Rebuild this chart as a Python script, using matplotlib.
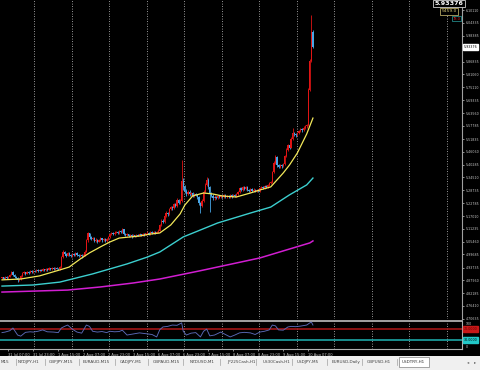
import numpy as np
import matplotlib
matplotlib.use('Agg')
import matplotlib.pyplot as plt
from matplotlib.patches import Rectangle

# ---------------- data ----------------
closes = [4.893,4.888,4.895,4.890,4.897,4.905,4.918,4.905,4.895,4.891,
          4.880,4.886,4.900,4.912,4.916,4.910,4.918,4.914,4.922,4.918,
          4.924,4.920,4.926,4.921,4.928,4.924,4.930,4.926,4.932,4.928,
          4.934,4.930,4.936,4.931,4.937,4.933,4.930,4.940,4.985,5.008,
          5.000,4.992,5.002,4.995,4.990,4.998,4.994,5.003,4.996,4.990,
          4.995,4.988,4.992,5.010,5.060,5.092,5.075,5.066,5.070,5.058,
          5.064,5.055,5.062,5.070,5.060,5.066,5.058,5.068,5.075,5.088,
          5.095,5.088,5.096,5.100,5.094,5.102,5.098,5.110,5.090,5.084,
          5.088,5.080,5.086,5.078,5.084,5.080,5.086,5.082,5.088,5.084,
          5.090,5.086,5.092,5.096,5.090,5.098,5.094,5.100,5.095,5.098,
          5.105,5.130,5.150,5.145,5.170,5.185,5.178,5.200,5.212,5.205,
          5.225,5.215,5.243,5.230,5.240,5.330,5.300,5.285,5.270,5.280,
          5.268,5.275,5.262,5.270,5.265,5.255,5.230,5.215,5.240,5.280,
          5.310,5.335,5.300,5.270,5.262,5.250,5.258,5.252,5.262,5.255,
          5.262,5.258,5.265,5.258,5.262,5.256,5.264,5.259,5.266,5.262,
          5.268,5.280,5.295,5.288,5.300,5.292,5.302,5.290,5.285,5.292,
          5.284,5.290,5.282,5.288,5.285,5.295,5.300,5.296,5.305,5.302,
          5.310,5.318,5.322,5.370,5.410,5.437,5.400,5.392,5.400,5.395,
          5.405,5.440,5.470,5.490,5.480,5.520,5.545,5.540,5.535,5.545,
          5.555,5.562,5.558,5.570,5.575,5.582,5.740,5.870,6.001,5.934]
first_open = 4.890
highs = [4.897,4.896,4.899,4.898,4.901,4.909,4.923,4.921,4.908,4.899,
         4.894,4.890,4.904,4.916,4.921,4.919,4.922,4.921,4.926,4.925,
         4.928,4.927,4.930,4.929,4.932,4.931,4.934,4.933,4.936,4.935,
         4.938,4.937,4.940,4.939,4.941,4.940,4.937,4.945,4.990,5.016,
         5.012,5.004,5.007,5.006,4.999,5.003,5.002,5.008,5.006,4.999,
         4.999,4.998,4.997,5.015,5.066,5.100,5.096,5.080,5.076,5.074,
         5.069,5.068,5.067,5.075,5.073,5.071,5.069,5.073,5.080,5.093,
         5.100,5.099,5.101,5.105,5.104,5.107,5.106,5.118,5.113,5.094,
         5.093,5.091,5.090,5.089,5.088,5.087,5.090,5.089,5.092,5.091,
         5.094,5.093,5.096,5.101,5.099,5.102,5.101,5.104,5.103,5.102,
         5.110,5.136,5.156,5.158,5.175,5.192,5.190,5.206,5.218,5.216,
         5.231,5.230,5.250,5.248,5.246,5.424,5.340,5.310,5.292,5.288,
         5.286,5.281,5.280,5.276,5.275,5.270,5.259,5.236,5.246,5.286,
         5.318,5.345,5.340,5.306,5.278,5.268,5.264,5.263,5.267,5.266,
         5.267,5.266,5.270,5.269,5.267,5.266,5.269,5.268,5.271,5.270,
         5.273,5.285,5.301,5.300,5.306,5.304,5.308,5.306,5.294,5.297,
         5.296,5.295,5.294,5.293,5.292,5.300,5.305,5.304,5.310,5.309,
         5.315,5.323,5.328,5.376,5.418,5.446,5.442,5.406,5.406,5.404,
         5.411,5.446,5.477,5.498,5.497,5.527,5.568,5.552,5.546,5.551,
         5.561,5.568,5.567,5.576,5.581,5.588,5.748,5.880,6.079,6.011]
lows = [4.886,4.884,4.886,4.887,4.888,4.894,4.902,4.901,4.891,4.886,
        4.874,4.877,4.883,4.897,4.908,4.906,4.907,4.910,4.911,4.914,
        4.915,4.916,4.917,4.918,4.918,4.920,4.921,4.922,4.923,4.924,
        4.925,4.926,4.927,4.927,4.928,4.929,4.925,4.927,4.937,4.980,
        4.994,4.987,4.989,4.990,4.985,4.986,4.989,4.991,4.991,4.985,
        4.986,4.983,4.984,4.989,5.006,5.055,5.068,5.060,5.062,5.053,
        5.054,5.050,5.051,5.058,5.055,5.056,5.053,5.055,5.064,5.071,
        5.084,5.083,5.085,5.092,5.089,5.090,5.093,5.095,5.085,5.079,
        5.080,5.075,5.076,5.073,5.074,5.076,5.077,5.078,5.079,5.080,
        5.081,5.082,5.083,5.088,5.086,5.087,5.090,5.091,5.091,5.092,
        5.095,5.102,5.126,5.139,5.141,5.166,5.172,5.174,5.196,5.199,
        5.201,5.209,5.211,5.224,5.225,5.236,5.290,5.275,5.262,5.264,
        5.262,5.262,5.256,5.257,5.259,5.249,5.222,5.184,5.210,5.235,
        5.275,5.305,5.293,5.189,5.255,5.244,5.245,5.246,5.248,5.250,
        5.251,5.253,5.254,5.253,5.254,5.251,5.252,5.254,5.255,5.257,
        5.258,5.264,5.276,5.283,5.284,5.287,5.288,5.285,5.280,5.281,
        5.279,5.280,5.277,5.278,5.280,5.281,5.291,5.291,5.292,5.297,
        5.298,5.306,5.313,5.318,5.365,5.405,5.394,5.386,5.387,5.389,
        5.391,5.401,5.436,5.465,5.474,5.476,5.515,5.534,5.529,5.530,
        5.540,5.550,5.552,5.553,5.565,5.570,5.578,5.735,5.865,5.928]

# moving averages (sampled read-offs: bar index, price)
ma_fast_idx = [0,12,24,37,43,50,56,63,69,75,82,88,95,101,108,114,117,122,129,135,141,150,159,165,172,180,184,189,195,199]
ma_fast_val = [4.882,4.886,4.900,4.927,4.940,4.976,5.004,5.031,5.053,5.071,5.076,5.080,5.089,5.094,5.130,5.180,5.220,5.261,5.2745,5.270,5.261,5.2565,5.2745,5.288,5.302,5.365,5.401,5.455,5.541,5.613]
ma_mid_idx = [0,20,37,58,80,93,101,116,138,159,172,184,195,199]
ma_mid_val = [4.854,4.859,4.872,4.909,4.954,4.985,5.008,5.076,5.139,5.184,5.211,5.266,5.311,5.342]
ma_slow_idx = [0,42,63,84,101,126,165,197,199]
ma_slow_val = [4.827,4.836,4.850,4.868,4.886,4.922,4.981,5.049,5.058]

rsi_idx = [0,2,5,7,10,12,15,18,20,23,26,29,33,36,38,40,42,45,48,51,54,56,58,61,64,67,69,72,75,77,80,84,88,92,96,99,
           101,103,106,109,112,115,116,118,121,124,127,129,131,133,136,140,143,146,149,152,155,159,162,165,168,171,
           173,175,177,180,183,185,188,191,195,197,198,199]
rsi_val = [57,59,64,74,48,44,58,60,59,62,67,60,59,57,74,80,85,70,59,55,85,80,62,59,61,57,62,60,61,66,48,52,56,53,50,41,
           68,78,80,85,84,93,62,48,55,57,41,62,70,45,48,59,50,41,48,56,58,56,50,59,62,67,
           85,82,67,66,78,80,79,81,85,93,96,85]
rsi_levels = [70, 30]

price_ticks = [4.70635,4.76410,4.82185,4.87960,4.93735,4.99685,5.05460,5.11235,5.17010,5.22785,5.28735,
               5.34510,5.40285,5.46060,5.51835,5.57785,5.63560,5.69335,5.75110,5.81060,5.86835,5.98385,6.04335,6.10110]
current_price = 5.93376
time_idx = [4,20,36,52,68,84,100,116,132,148,164,180,196]
time_labels = ['31 Jul 07:00','31 Jul 23:00','1 Aug 15:00','2 Aug 07:00','2 Aug 23:00','3 Aug 15:00',
               '6 Aug 07:00','6 Aug 23:00','7 Aug 15:00','8 Aug 07:00','8 Aug 23:00','9 Aug 15:00','10 Aug 07:00']
day_starts = [21,45,69,93,117,141,165,189,213,237,261,285]
tabs = ['M15','NZDJPY,H1','GBPJPY,M15','EURAUD,M15','CADJPY,M1','GBPAUD,M15','NZDUSD,M1',
        'JP225Cash,H1','US30Cash,H1','USDJPY,M5','EURUSD,Daily','GBPUSD,H1','USDTRY,H1']

# ---------------- drawing ----------------
W, H = 480, 370
fig = plt.figure(figsize=(4.8, 3.7), dpi=100, facecolor='black')
def fx(px): return px / W
def fy(py): return 1 - py / H

XL = (-2/1.5625, 460/1.5625)
GRAY = '#c8c8c8'
FS = 2.3

ax = fig.add_axes([0, fy(319), fx(462), 319/H])
ax.set_facecolor('black')
ax.set_xlim(*XL)
ax.set_ylim(4.7053, 6.1463)

closes_a = np.array(closes)
opens_a = np.r_[first_open, closes_a[:-1]]
idx = np.arange(len(closes_a))
up = closes_a >= opens_a
UPC, DNC = '#e01414', '#48a6e6'
cols = np.where(up, UPC, DNC)
ax.vlines(idx, lows, highs, colors=cols, lw=0.6, zorder=3)
body = closes_a - opens_a
body = np.where(np.abs(body) < 0.0015, 0.0015, body)
ax.bar(idx, body, bottom=opens_a, width=0.8, color=cols, linewidth=0, zorder=4)

ax.plot(ma_slow_idx, ma_slow_val, color='#d21ed2', lw=1.1, zorder=2)
ax.plot(ma_mid_idx, ma_mid_val, color='#3ccfcf', lw=1.0, zorder=2)
ax.plot(ma_fast_idx, ma_fast_val, color='#f2e85a', lw=0.9, zorder=5)

for d in day_starts:
    ax.axvline(d - 0.5, color=GRAY, lw=0.6, ls=(0, (1, 2)), zorder=1)

for s in ['top', 'left', 'bottom']:
    ax.spines[s].set_visible(False)
ax.spines['right'].set_color('#a0a0a0')
ax.spines['right'].set_linewidth(0.8)
ax.yaxis.tick_right()
ax.set_yticks(price_ticks)
ax.set_yticklabels([f'{v:.5f}' for v in price_ticks])
ax.tick_params(axis='y', colors=GRAY, labelsize=FS, length=1.5, width=0.5, pad=1.5)
ax.set_xticks([])

ax.text(1.003, current_price, f'{current_price:.5f}', transform=ax.get_yaxis_transform(),
        fontsize=FS, color='black', va='center', ha='left', clip_on=False,
        bbox=dict(boxstyle='square,pad=0.25', fc='white', ec='white'))

# subwindow
ax2 = fig.add_axes([0, fy(349), fx(462), 28/H])
ax2.set_facecolor('black')
ax2.set_xlim(*XL)
ax2.set_ylim(-3.7, 100)
ax2.axhline(rsi_levels[0], color='#b01818', lw=1.1)
ax2.axhline(rsi_levels[1], color='#1fb4b4', lw=1.1)
ax2.plot(rsi_idx, rsi_val, color='#5a6ab8', lw=0.65, zorder=3)
for d in day_starts:
    ax2.axvline(d - 0.5, color=GRAY, lw=0.6, ls=(0, (1, 2)), zorder=1)
ax2.spines['left'].set_visible(False)
for s in ['top', 'right', 'bottom']:
    ax2.spines[s].set_color('#b0b0b0')
ax2.spines['top'].set_linewidth(1.3)
ax2.spines['right'].set_linewidth(0.8)
ax2.spines['bottom'].set_linewidth(0.8)
ax2.set_yticks([])
ax2.set_xticks(time_idx)
ax2.set_xticklabels(time_labels)
for lb in ax2.get_xticklabels():
    lb.set_ha('left')
ax2.tick_params(axis='x', colors=GRAY, labelsize=2.6, length=1.5, width=0.5, pad=1.5)

tr2 = ax2.get_yaxis_transform()
ax2.text(1.008, 90, '100', transform=tr2, fontsize=FS, color=GRAY, va='center', ha='left', clip_on=False)
ax2.text(1.008, 4, '0', transform=tr2, fontsize=FS, color=GRAY, va='center', ha='left', clip_on=False)
ax2.text(1.004, rsi_levels[0], '70.0000', transform=tr2, fontsize=FS, color='#600000', va='center', ha='left',
         clip_on=False, bbox=dict(boxstyle='square,pad=0.25', fc='#c81818', ec='#c81818'))
ax2.text(1.004, rsi_levels[1], '30.0000', transform=tr2, fontsize=FS, color='black', va='center', ha='left',
         clip_on=False, bbox=dict(boxstyle='square,pad=0.25', fc='#22c8c8', ec='#22c8c8'))

# top-right info boxes
fig.text(fx(449), fy(3.5), f'{current_price:.5f}', fontsize=4.6, color='white', ha='center', va='center',
         fontweight='bold', bbox=dict(boxstyle='square,pad=0.2', fc='black', ec='#d0d0d0', lw=0.6))
fig.text(fx(449), fy(11.5), '5459.0', fontsize=3.2, color='#d8c878', ha='center', va='center',
         bbox=dict(boxstyle='square,pad=0.3', fc='black', ec='#d8c878', lw=0.5))
fig.text(fx(456.5), fy(18.5), '78.0', fontsize=2.6, color='#e02020', ha='center', va='center',
         bbox=dict(boxstyle='square,pad=0.25', fc='black', ec='#2aa0a0', lw=0.5))

# tab bar
fig.add_artist(Rectangle((0, fy(370)), 1, 14/H, transform=fig.transFigure, fc='#f0f0f0', ec='none'))
tab_x = [1, 18, 49, 83, 120, 153, 190, 227, 263, 297, 332, 367, 402]
sep_x = [16, 45, 79, 115, 148, 183, 220, 256, 292, 327, 362, 397]
for t, x in zip(tabs[:-1], tab_x[:-1]):
    fig.text(fx(x), fy(362), t, fontsize=3.0, color='#404040', ha='left', va='center')
for x in sep_x:
    fig.add_artist(plt.Line2D([fx(x), fx(x)], [fy(359), fy(365)], transform=fig.transFigure, color='#a0a0a0', lw=0.5))
fig.add_artist(Rectangle((fx(399), fy(367)), fx(30), 10/H, transform=fig.transFigure, fc='white', ec='#808080', lw=0.5))
fig.text(fx(402), fy(362), tabs[-1], fontsize=3.0, color='#303030', ha='left', va='center', zorder=6)
fig.text(fx(468), fy(362), '\u25c2', fontsize=3.2, color='#606060', ha='center', va='center')
fig.text(fx(475), fy(362), '\u25b8', fontsize=3.2, color='#606060', ha='center', va='center')

fig.savefig('out.png', dpi=100, facecolor='black')
